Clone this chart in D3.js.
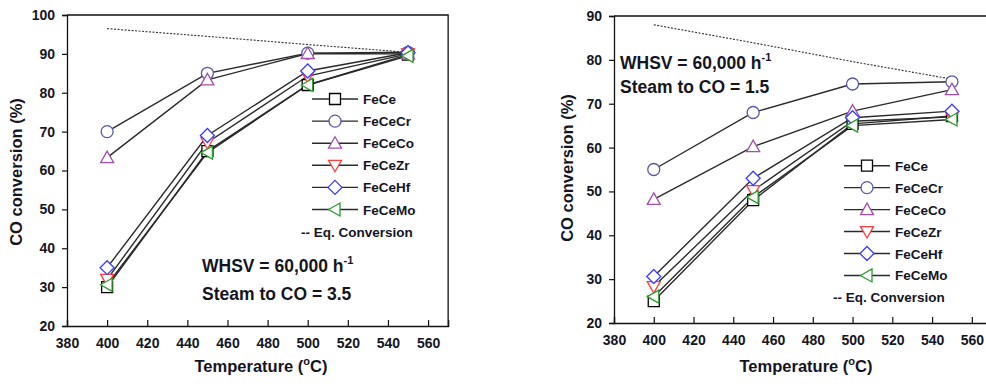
<!DOCTYPE html>
<html>
<head>
<meta charset="utf-8">
<script src="https://cdn.jsdelivr.net/npm/d3@7"></script>
<style>
  html, body { margin: 0; padding: 0; background: #fff; }
  svg { display: block; }
  text { font-family: "Liberation Sans", Arial, sans-serif; font-weight: bold; fill: #15151f; }
</style>
</head>
<body>
<svg id="chart" width="986" height="384"></svg>
<script>
// Reaction temperatures (°C)
const temperatures = [400, 450, 500, 550];
const catalysts = ["FeCe", "FeCeCr", "FeCeCo", "FeCeZr", "FeCeHf", "FeCeMo"];
const catalystColors = ["#000000", "#5858a8", "#a050a8", "#ff3c3c", "#3c3cff", "#2e9a2e"];
const catalystShapes = ["square", "circle", "triangleUp", "triangleDown", "diamond", "triangleLeft"];

// CO conversion (%) at steam/CO = 3.5, one row per catalyst
const steam35Values = [
  [30.0, 65.0, 82.0, 89.8],
  [70.0, 85.0, 90.2, 90.4],
  [63.3, 83.3, 90.1, 90.0],
  [32.0, 67.2, 84.3, 90.0],
  [35.0, 69.0, 85.6, 90.3],
  [30.6, 64.6, 82.0, 89.5]
];
const steam35Equilibrium = [96.5, 94.5, 92.4, 90.4];

// CO conversion (%) at steam/CO = 1.5, one row per catalyst
const steam15Values = [
  [25.0, 48.0, 65.4, 67.2],
  [55.0, 68.0, 74.5, 75.0],
  [48.2, 60.2, 68.3, 73.2],
  [28.3, 50.2, 66.0, 67.0],
  [30.6, 53.0, 66.8, 68.3],
  [26.0, 48.7, 65.0, 66.4]
];
const steam15Equilibrium = [88.0, 83.9, 79.6, 75.6];

const xTicks = [380, 400, 420, 440, 460, 480, 500, 520, 540, 560];
const yTicksLeft = [20, 30, 40, 50, 60, 70, 80, 90, 100];
const yTicksRight = [20, 30, 40, 50, 60, 70, 80, 90];

const svg = d3.select("#chart");

function markerPath(shape) {
  const p = d3.path();
  switch (shape) {
    case "square":
      p.rect(-5.5, -5.5, 11, 11); break;
    case "circle":
      p.arc(0, 0, 6, 0, 2 * Math.PI); break;
    case "triangleUp":
      p.moveTo(0, -6.5); p.lineTo(6.5, 5); p.lineTo(-6.5, 5); p.closePath(); break;
    case "triangleDown":
      p.moveTo(0, 6.5); p.lineTo(6.5, -5); p.lineTo(-6.5, -5); p.closePath(); break;
    case "diamond":
      p.moveTo(0, -7); p.lineTo(7, 0); p.lineTo(0, 7); p.lineTo(-7, 0); p.closePath(); break;
    case "triangleLeft":
      p.moveTo(-6.5, 0); p.lineTo(5, -6.5); p.lineTo(5, 6.5); p.closePath(); break;
  }
  return p.toString();
}

function drawPanel(cfg) {
  const g = svg.append("g");
  const x = d3.scaleLinear().domain([380, 570]).range([cfg.left, cfg.left + (570 - 380) * cfg.pxPerDeg]);
  const y = d3.scaleLinear().domain(cfg.yDomain).range([cfg.bottom, cfg.top]);

  // frame: top and right edges
  g.append("path")
    .attr("d", `M${x(380)},${y(cfg.yDomain[1])}H${x(570)}V${y(cfg.yDomain[0])}`)
    .attr("fill", "none").attr("stroke", "#111").attr("stroke-width", 1.3);

  // x axis, ticks pointing into the plot
  const xAxis = g.append("g").attr("transform", `translate(0,${cfg.bottom})`)
    .call(d3.axisBottom(x).tickValues(xTicks).tickSize(-6).tickPadding(12).tickFormat(d3.format("d")));
  xAxis.select(".domain").attr("stroke", "#111").attr("stroke-width", 1.3);
  xAxis.selectAll(".tick line").attr("stroke", "#111").attr("stroke-width", 1.2);
  xAxis.selectAll("text").attr("font-size", 14).attr("font-family", null).attr("fill", "#15151f");

  // y axis, ticks pointing outward
  const yAxis = g.append("g").attr("transform", `translate(${cfg.left},0)`)
    .call(d3.axisLeft(y).tickValues(cfg.yTicks).tickSize(5).tickPadding(7).tickFormat(d3.format("d")));
  yAxis.select(".domain").attr("stroke", "#111").attr("stroke-width", 1.3);
  yAxis.selectAll(".tick line").attr("stroke", "#111").attr("stroke-width", 1.2);
  yAxis.selectAll("text").attr("font-size", 14).attr("font-family", null).attr("fill", "#15151f");

  // axis titles
  const xt = g.append("text").attr("x", cfg.xTitleX).attr("y", 372)
    .attr("text-anchor", "middle").attr("font-size", 16.5);
  xt.append("tspan").text("Temperature (");
  xt.append("tspan").attr("dy", -7).attr("font-size", 11).text("o");
  xt.append("tspan").attr("dy", 7).text("C)");

  g.append("text")
    .attr("transform", `translate(${cfg.yTitleX},${cfg.yTitleY}) rotate(-90)`)
    .attr("text-anchor", "middle").attr("font-size", 16.5)
    .text("CO conversion (%)");

  // equilibrium conversion
  g.append("path")
    .datum(cfg.equilibrium)
    .attr("d", d3.line().x((d, i) => x(temperatures[i])).y(d => y(d)))
    .attr("fill", "none").attr("stroke", "#333").attr("stroke-width", 1.1)
    .attr("stroke-dasharray", "2,1.5");

  // series lines
  const line = d3.line().x((d, i) => x(temperatures[i])).y(d => y(d));
  cfg.values.forEach(vals => {
    g.append("path").datum(vals).attr("d", line)
      .attr("fill", "none").attr("stroke", "#2a2a2a").attr("stroke-width", 1.4);
  });

  // series markers
  cfg.values.forEach((vals, k) => {
    g.selectAll(null).data(vals).join("path")
      .attr("transform", (d, i) => `translate(${x(temperatures[i])},${y(d)})`)
      .attr("d", markerPath(catalystShapes[k]))
      .attr("fill", "#fff").attr("stroke", catalystColors[k]).attr("stroke-width", 1.3);
  });

  // legend
  catalysts.forEach((name, k) => {
    const ly = cfg.legendY + k * cfg.legendStep;
    const lg = g.append("g");
    lg.append("line").attr("x1", cfg.legendX).attr("x2", cfg.legendX + 46)
      .attr("y1", ly).attr("y2", ly).attr("stroke", "#2a2a2a").attr("stroke-width", 1.4);
    lg.append("path").attr("transform", `translate(${cfg.legendX + 23},${ly})`)
      .attr("d", markerPath(catalystShapes[k]))
      .attr("fill", "#fff").attr("stroke", catalystColors[k]).attr("stroke-width", 1.3);
    lg.append("text").attr("x", cfg.legendX + 51).attr("y", ly + 5)
      .attr("font-size", 13.5).text(name);
  });
  g.append("text").attr("x", cfg.legendX - 11)
    .attr("y", cfg.legendY + 6 * cfg.legendStep + 5)
    .attr("font-size", 13.5).text("-- Eq. Conversion");

  // operating conditions
  const t1 = g.append("text").attr("x", cfg.noteX).attr("y", cfg.noteY).attr("font-size", 17.5);
  t1.append("tspan").text("WHSV = 60,000 h");
  t1.append("tspan").attr("dy", -8).attr("font-size", 11).text("-1");
  g.append("text").attr("x", cfg.noteX).attr("y", cfg.noteY + cfg.noteStep)
    .attr("font-size", 17.5).text(cfg.steamLabel);
}

drawPanel({
  left: 67, top: 15, bottom: 326, pxPerDeg: 2.006,
  yDomain: [20, 100], yTicks: yTicksLeft,
  values: steam35Values, equilibrium: steam35Equilibrium,
  xTitleX: 261, yTitleX: 22, yTitleY: 172,
  legendX: 312, legendY: 99, legendStep: 22.1,
  noteX: 202, noteY: 272, noteStep: 28,
  steamLabel: "Steam to CO = 3.5"
});

drawPanel({
  left: 614, top: 16, bottom: 323, pxPerDeg: 1.988,
  yDomain: [20, 90], yTicks: yTicksRight,
  values: steam15Values, equilibrium: steam15Equilibrium,
  xTitleX: 806, yTitleX: 573, yTitleY: 168,
  legendX: 844, legendY: 165.7, legendStep: 21.95,
  noteX: 620, noteY: 69, noteStep: 24,
  steamLabel: "Steam to CO = 1.5"
});
</script>
</body>
</html>
